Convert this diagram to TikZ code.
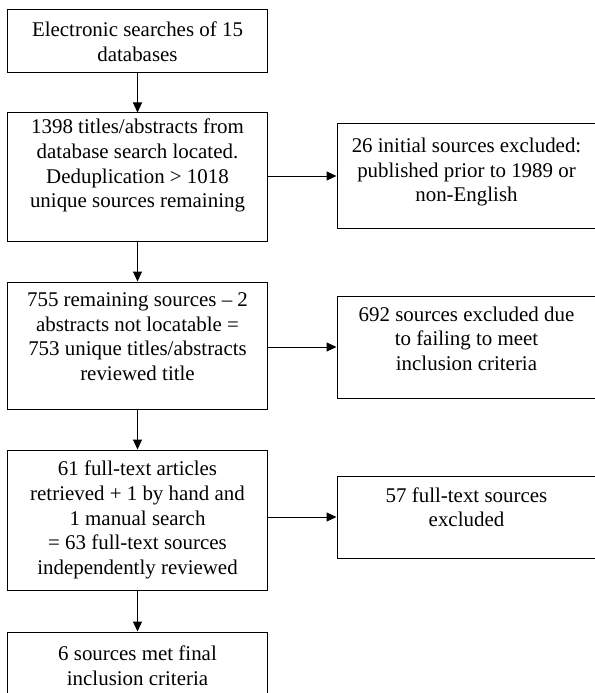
\documentclass[tikz,border=0pt]{standalone}
\usepackage{fontspec}
\setmainfont{Liberation Serif}
\usetikzlibrary{arrows.meta}

\tikzset{
  flowbox/.style={draw, line width=1bp, align=center, inner sep=0pt,
    minimum width=259bp, font=\fontsize{21}{24.8}\selectfont},
  lift/.style={text depth=#1}
}

\begin{document}
\begin{tikzpicture}[x=1bp, y=-1bp, >={Triangle[length=10bp,width=9bp]}, line width=1bp]
        \useasboundingbox (0,0) rectangle (595,693);
        \node[flowbox, minimum height=63bp] (DB) at (137.5,41.5) {Electronic searches of 15\\databases};
        \node[flowbox, minimum height=128bp, lift=27bp] (Loc) at (137.5,177) {1398 titles/abstracts from\\database search located.\\Deduplication > 1018\\unique sources remaining};
        \node[flowbox, minimum height=127bp, lift=18bp] (Rev) at (137.5,345.5) {755 remaining sources -- 2\\abstracts not locatable =\\753 unique titles/abstracts\\reviewed title};
        \node[flowbox, minimum height=140bp] (Full) at (137.5,520) {61 full-text articles\\retrieved + 1 by hand and\\1 manual search\\= 63 full-text sources\\independently reviewed};
        \node[flowbox, minimum height=68bp] (Final) at (137.5,666) {6 sources met final\\inclusion criteria};
        \node[flowbox, minimum height=104bp, lift=12bp] (ExA) at (466.5,176) {26 initial sources excluded:\\published prior to 1989 or\\non-English};
        \node[flowbox, minimum height=102bp, lift=17bp] (ExB) at (466.5,347) {692 sources excluded due\\to failing to meet\\inclusion criteria};
        \node[flowbox, minimum height=82bp, lift=20bp] (ExC) at (466.5,517) {57 full-text sources\\excluded};
        \draw[->] (DB) to (Loc);
        \draw[->] (Loc) to (Rev);
        \draw[->] (Rev) to (Full);
        \draw[->] (Full) to (Final);
        \draw[->] (Loc.east |- ExA.west) to (ExA.west);
        \draw[->] (Rev.east |- ExB.west) to (ExB.west);
        \draw[->] (Full.east |- ExC.west) to (ExC.west);
    \end{tikzpicture}
\end{document}
